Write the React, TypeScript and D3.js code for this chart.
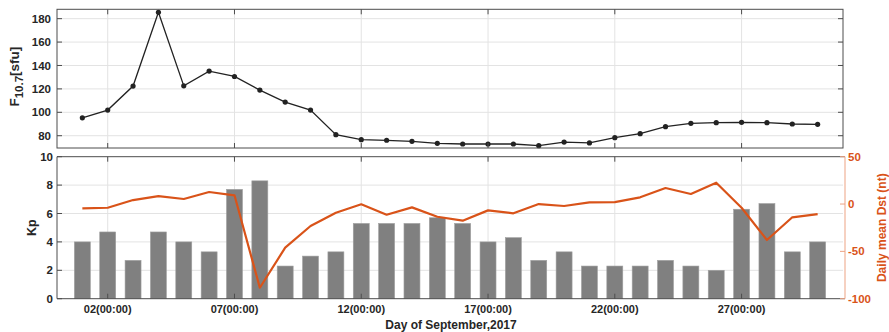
import React from "react";
import * as d3 from "d3";

const days = d3.range(1, 31);
const f107 = [95.3, 101.9, 122.4, 185.4, 122.6, 135.2, 130.6, 119, 108.7, 101.9, 80.9, 76.6, 76.1, 75.2, 73.5, 72.9, 72.9, 72.9, 71.5, 74.6, 73.8, 78.3, 81.7, 87.7, 90.6, 91.1, 91.4, 91.1, 90, 89.7];
const kp = [4.0, 4.7, 2.7, 4.7, 4.0, 3.3, 7.7, 8.3, 2.3, 3.0, 3.3, 5.3, 5.3, 5.3, 5.7, 5.3, 4.0, 4.3, 2.7, 3.3, 2.3, 2.3, 2.3, 2.7, 2.3, 2.0, 6.3, 6.7, 3.3, 4.0];
const dst = [-4.5, -3.9, 4.2, 8.4, 5.3, 12.7, 9.2, -88.4, -46.1, -23.2, -9.2, -0.3, -11.3, -3.5, -13.4, -17.6, -6.7, -9.8, 0, -2.1, 1.8, 2.1, 7.1, 16.9, 10.6, 22.5, -3.9, -38, -14, -10.6];
const xTicks = [2, 7, 12, 17, 22, 27];
const xTickLabels = ["02(00:00)", "07(00:00)", "12(00:00)", "17(00:00)", "22(00:00)", "27(00:00)"];
const fTicks = [80, 100, 120, 140, 160, 180];
const kpTicks = [0, 2, 4, 6, 8, 10];
const dstTicks = [-100, -50, 0, 50];

const W = 889, H = 332;
const L = 57, R = 843;
const top1 = 9.3, bot1 = 148;
const top2 = 156.7, bot2 = 298.7;
const ORANGE = "#D95319";
const ORANGE_L = "#eda383";
const AX = "#4d4d4d";
const GRID = "#e3e3e3";
const FONT = "Liberation Sans, Arial, Helvetica, sans-serif";

export default function App() {
  const x = d3.scaleLinear().domain([0, 31]).range([L, R]);
  const yF = d3.scaleLinear().domain([69.5, 188]).range([bot1, top1]);
  const yK = d3.scaleLinear().domain([0, 10]).range([bot2, top2]);
  const yD = d3.scaleLinear().domain([-100, 50]).range([bot2, top2]);
  const fLine = d3.line<number>().x((_, i) => x(days[i])).y((d) => yF(d))(f107) || "";
  const dLine = d3.line<number>().x((_, i) => x(days[i])).y((d) => yD(d))(dst) || "";
  const bw = (x(1) - x(0)) * 0.63;
  const tk = 5;

  return (
    <svg width={W} height={H} style={{ position: "absolute", left: 0, top: 0, fontFamily: FONT }}>
      <rect x={0} y={0} width={W} height={H} fill="#fff" />
      {/* top panel grid */}
      {fTicks.map((t) => (
        <line key={"gf" + t} x1={L} x2={R} y1={yF(t)} y2={yF(t)} stroke={GRID} strokeWidth={1} />
      ))}
      {xTicks.map((t) => (
        <line key={"gx1" + t} x1={x(t)} x2={x(t)} y1={top1} y2={bot1} stroke={GRID} strokeWidth={1} />
      ))}
      <path d={fLine} fill="none" stroke="#222" strokeWidth={1.3} />
      {f107.map((v, i) => (
        <circle key={"p" + i} cx={x(days[i])} cy={yF(v)} r={2.6} fill="#222" />
      ))}
      <rect x={L} y={top1} width={R - L} height={bot1 - top1} fill="none" stroke={AX} strokeWidth={1} />
      {fTicks.map((t) => (
        <g key={"tf" + t}>
          <line x1={L} x2={L + tk} y1={yF(t)} y2={yF(t)} stroke={AX} />
          <line x1={R} x2={R - tk} y1={yF(t)} y2={yF(t)} stroke={AX} />
          <text x={L - 6} y={yF(t)} dy="0.35em" textAnchor="end" fontSize={11.5} fontWeight="bold" fill="#262626">{t}</text>
        </g>
      ))}
      {xTicks.map((t) => (
        <g key={"tx1" + t}>
          <line x1={x(t)} x2={x(t)} y1={bot1} y2={bot1 - tk} stroke={AX} />
          <line x1={x(t)} x2={x(t)} y1={top1} y2={top1 + tk} stroke={AX} />
        </g>
      ))}
      <text transform={`translate(19,${(top1 + bot1) / 2 - 2}) rotate(-90)`} textAnchor="middle" fontSize={13.5} fontWeight="bold" fill="#262626">
        F<tspan fontSize={11.5} dy={4}>10.7</tspan><tspan dy={-4}>[sfu]</tspan>
      </text>

      {/* bottom panel */}
      {kpTicks.filter((t) => t > 0 && t < 10).map((t) => (
        <line key={"gk" + t} x1={L} x2={R} y1={yK(t)} y2={yK(t)} stroke={GRID} strokeWidth={1} />
      ))}
      {xTicks.map((t) => (
        <line key={"gx2" + t} x1={x(t)} x2={x(t)} y1={top2} y2={bot2} stroke={GRID} strokeWidth={1} />
      ))}
      {kp.map((v, i) => (
        <rect key={"b" + i} x={x(days[i]) - bw / 2} y={yK(v)} width={bw} height={yK(0) - yK(v)} fill="#808080" stroke="#a0a0a0" strokeWidth={0.6} />
      ))}
      <path d={dLine} fill="none" stroke={ORANGE} strokeWidth={2.2} strokeLinejoin="round" />
      <line x1={L} x2={R + 2} y1={top2} y2={top2} stroke={AX} />
      <line x1={L} x2={R + 2} y1={bot2} y2={bot2} stroke={AX} />
      <line x1={L} x2={L} y1={top2} y2={bot2} stroke={AX} />
      <line x1={R + 2} x2={R + 2} y1={top2} y2={bot2} stroke={ORANGE_L} />
      {kpTicks.map((t) => (
        <g key={"tk" + t}>
          <line x1={L} x2={L + tk} y1={yK(t)} y2={yK(t)} stroke={AX} />
          <text x={L - 4} y={yK(t)} dy="0.35em" textAnchor="end" fontSize={11.5} fontWeight="bold" fill="#262626">{t}</text>
        </g>
      ))}
      {dstTicks.map((t) => (
        <g key={"td" + t}>
          <line x1={R + 2} x2={R + 2 - tk} y1={yD(t)} y2={yD(t)} stroke={ORANGE_L} />
          <text x={R + 5} y={yD(t)} dy="0.35em" textAnchor="start" fontSize={11.5} fontWeight="bold" fill={ORANGE}>{t}</text>
        </g>
      ))}
      {xTicks.map((t, i) => (
        <g key={"tx2" + t}>
          <line x1={x(t)} x2={x(t)} y1={bot2} y2={bot2 - tk} stroke={AX} />
          <line x1={x(t)} x2={x(t)} y1={top2} y2={top2 + tk} stroke={AX} />
          <text x={x(t)} y={313} textAnchor="middle" fontSize={11} fontWeight="bold" fill="#262626">{xTickLabels[i]}</text>
        </g>
      ))}
      <text transform={`translate(36,${(top2 + bot2) / 2}) rotate(-90)`} textAnchor="middle" fontSize={12.5} fontWeight="bold" fill="#262626">Kp</text>
      <text transform={`translate(886,${(top2 + bot2) / 2}) rotate(-90)`} textAnchor="middle" fontSize={12} fontWeight="bold" fill={ORANGE}>Daily mean Dst (nt)</text>
      <text x={451} y={329} textAnchor="middle" fontSize={12} fontWeight="bold" fill="#262626">Day of September,2017</text>
    </svg>
  );
}
